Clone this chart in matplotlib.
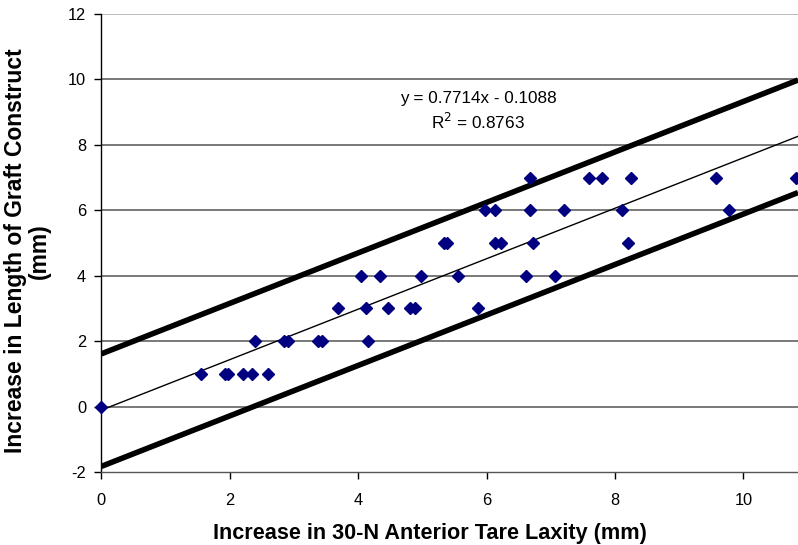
import matplotlib
matplotlib.use("Agg")
import matplotlib.pyplot as plt
import numpy as np

# Data
x_vals = [0.00,
          1.55, 1.93, 1.98, 2.20, 2.34, 2.60,
          2.40, 2.85, 2.90, 3.38, 3.43, 4.15,
          3.69, 4.12, 4.47, 4.81, 4.88, 5.86,
          4.04, 4.34, 4.98, 5.56, 6.62, 7.07,
          5.33, 5.38, 6.13, 6.23, 6.73, 8.20,
          5.97, 6.13, 6.67, 7.21, 8.11, 9.77,
          6.67, 7.60, 7.80, 8.25, 9.57, 10.82]
y_vals = [0,
          1, 1, 1, 1, 1, 1,
          2, 2, 2, 2, 2, 2,
          3, 3, 3, 3, 3, 3,
          4, 4, 4, 4, 4, 4,
          5, 5, 5, 5, 5, 5,
          6, 6, 6, 6, 6, 6,
          7, 7, 7, 7, 7, 7]
slope = 0.7714
intercept = -0.1088
band = 1.72
r2 = 0.8763
x_ticks = [0, 2, 4, 6, 8, 10]
y_ticks = [-2, 0, 2, 4, 6, 8, 10, 12]

plt.rcParams['font.family'] = ['Liberation Sans', 'DejaVu Sans']
plt.rcParams['axes.unicode_minus'] = False

fig = plt.figure(figsize=(7.98, 5.45), dpi=100)
ax = fig.add_axes([101.3 / 798, (545 - 472) / 545, 1 - 101.3 / 798, (472 - 14) / 545])

xmin, xmax = 0, 10.85
ax.set_xlim(xmin, xmax)
ax.set_ylim(-2, 12)

xl = np.array([xmin, xmax])
ax.plot(xl, slope * xl + intercept, color='black', lw=1.0, zorder=3)
ax.plot(xl, slope * xl + intercept + band, color='black', lw=4.0, zorder=3, solid_capstyle='butt')
ax.plot(xl, slope * xl + intercept - band, color='black', lw=4.0, zorder=3, solid_capstyle='butt')

ax.plot(x_vals, y_vals, linestyle='none', marker='D', color='#000080',
        markersize=6, zorder=4, clip_on=False)

ax.set_xticks(x_ticks)
ax.set_yticks(y_ticks)
ax.tick_params(axis='both', labelsize=11.8, length=5, width=1, direction='out', colors='black')
ax.tick_params(axis='x', pad=10)
ax.tick_params(axis='y', pad=6)

ax.yaxis.grid(True, color='#555555', lw=1.1)
ax.set_axisbelow(True)
for gl, t in zip(ax.yaxis.get_gridlines(), y_ticks):
    if t == -2:
        gl.set_visible(False)
    if t == 12:
        gl.set_color('#aaaaaa')

for s in ['top', 'right']:
    ax.spines[s].set_visible(False)
ax.spines['left'].set_linewidth(1.0)
ax.spines['bottom'].set_linewidth(1.0)
ax.spines['bottom'].set_color('#555555')

fig.text(430 / 798, 1 - 533 / 545, 'Increase in 30-N Anterior Tare Laxity (mm)',
         ha='center', va='center', fontsize=15.6, fontweight='bold')
fig.text(27 / 798, 1 - 251 / 545, 'Increase in Length of Graft Construct\n(mm)',
         ha='center', va='center', rotation=90, fontsize=16.5, fontweight='bold',
         multialignment='center', linespacing=1.05)

fig.text(478 / 798, 1 - 98 / 545, f'y = {slope}x - {abs(intercept)}', ha='center', va='center', fontsize=12.3)
fig.text(478 / 798, 1 - 122 / 545, f'R$^2$ = {r2}', ha='center', va='center', fontsize=12.3)

fig.savefig('out.png', dpi=100)
